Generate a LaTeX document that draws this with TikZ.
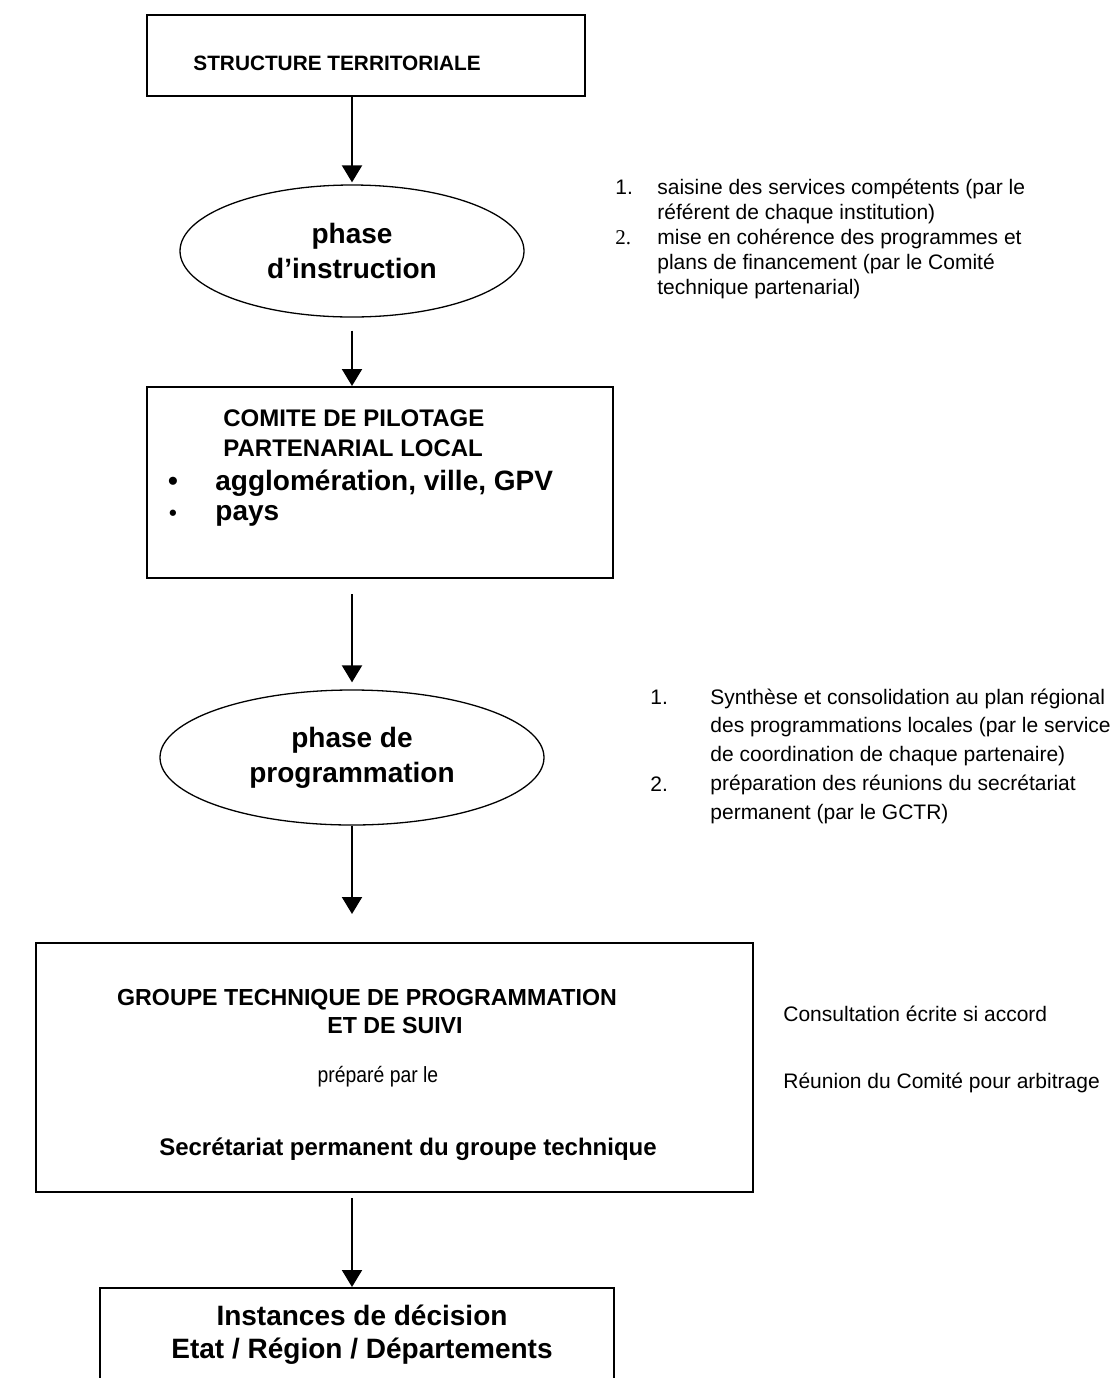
\documentclass[tikz,border=0pt]{standalone}
\usepackage{fontspec}
\setmainfont{Liberation Sans}
\newfontfamily\numserif{Liberation Serif}
\newfontfamily\narrowsans[FakeStretch=0.88]{Liberation Sans}
\usetikzlibrary{shapes.geometric,arrows.meta}

\tikzset{
  framebox/.style={draw, rectangle, line width=1pt, inner sep=0pt},
  phase/.style={draw, ellipse, line width=0.65pt, inner sep=0pt, align=center,
    font=\bfseries\fontsize{14}{17.5}\selectfont},
  flow/.style={-{Triangle[length=8.5pt,width=10pt]}, line width=1pt},
  txt/.style={anchor=base west, inner sep=0pt},
  mid/.style={anchor=base, inner sep=0pt},
  note/.style={txt, font=\fontsize{10.5}{12}\selectfont},
}

\begin{document}
\begin{tikzpicture}[x=0.5pt,y=-0.5pt]
\useasboundingbox (0,0) rectangle (1117,1378);

% main column
\node[framebox, minimum width=219pt, minimum height=40.5pt] (terr) at (366,55.5) {};
\node[phase, minimum width=172pt, minimum height=66pt] (instr) at (352,251) {phase\\d’instruction};
\node[framebox, minimum width=233pt, minimum height=95.5pt] (copil) at (380,482.5) {};
\node[phase, minimum width=192pt, minimum height=67.5pt] (prog) at (352,757.5) {phase de\\programmation};
\node[framebox, minimum width=358.5pt, minimum height=124.5pt] (gtps) at (394.5,1067.5) {};
\node[framebox, minimum width=257pt, minimum height=66pt] (decis) at (357,1354) {};

% texts in the boxes
\node[txt, font=\bfseries\fontsize{10.4}{12}\selectfont] (terr-t) at (193,70.5) {STRUCTURE TERRITORIALE};
\node[txt, font=\bfseries\fontsize{12}{14}\selectfont] (copil-t1) at (223,426.5) {COMITE DE PILOTAGE};
\node[txt, font=\bfseries\fontsize{12}{14}\selectfont] (copil-t2) at (223,456.5) {PARTENARIAL LOCAL};
\node[mid, font=\bfseries\fontsize{14}{17}\selectfont] (bul1) at (173,490) {•};
\node[mid, font=\bfseries\fontsize{11}{13}\selectfont] (bul2) at (173,520) {•};
\node[txt, font=\bfseries\fontsize{14}{17}\selectfont] (copil-b1) at (215,490) {agglomération, ville, GPV};
\node[txt, font=\bfseries\fontsize{14}{17}\selectfont] (copil-b2) at (215,520) {pays};

\node[mid, font=\bfseries\fontsize{11.6}{14}\selectfont] (gtps-t1) at (367,1005) {GROUPE TECHNIQUE DE PROGRAMMATION};
\node[mid, font=\bfseries\fontsize{11.6}{14}\selectfont] (gtps-t2) at (395,1033) {ET DE SUIVI};
\node[mid, font=\narrowsans\fontsize{11}{13}\selectfont] (gtps-t3) at (378,1082) {préparé par le};
\node[mid, font=\bfseries\fontsize{12}{14}\selectfont] (gtps-t4) at (408,1155) {Secrétariat permanent du groupe technique};

\node[mid, font=\bfseries\fontsize{14}{17}\selectfont] (decis-t1) at (362,1325) {Instances de décision};
\node[mid, font=\bfseries\fontsize{14}{17}\selectfont] (decis-t2) at (362,1358) {Etat / Région / Départements};

% connectors
\draw[flow, shorten >=1pt] (terr.south -| instr.north) -- (instr.north);
\draw[flow, shorten <=6.5pt] (instr.south) -- (instr.south |- copil.north);
\draw[flow, shorten <=7.5pt, shorten >=3.5pt] (copil.south -| instr.south) -- (prog.north);
\draw[flow, shorten >=14pt] (prog.south) -- (prog.south |- gtps.north);
\draw[flow, shorten <=2.5pt] (gtps.south -| prog.south) -- (prog.south |- decis.north);

% notes on the right
\node[note] (ins-n1) at (615,194) {1.};
\node[note, font=\numserif\fontsize{10.5}{12}\selectfont] (ins-n2) at (615,244) {2.};
\foreach \t [count=\i from 0] in {saisine des services compétents (par le,
    référent de chaque institution),
    mise en cohérence des programmes et,
    plans de financement (par le Comité,
    technique partenarial)}
  \node[note] (ins-\i) at (657,194+25*\i) {\t};

\node[note] (prg-n1) at (650,704) {1.};
\node[note] (prg-n2) at (650,791) {2.};
\foreach \t [count=\i from 0] in {Synthèse et consolidation au plan régional,
    des programmations locales (par le service,
    de coordination de chaque partenaire),
    préparation des réunions du secrétariat,
    permanent (par le GCTR)}
  \node[note] (prg-\i) at (710,704+28.75*\i) {\t};

\node[note] (consult) at (783,1021) {Consultation écrite si accord};
\node[note] (reunion) at (783,1088) {Réunion du Comité pour arbitrage};
\end{tikzpicture}
\end{document}
